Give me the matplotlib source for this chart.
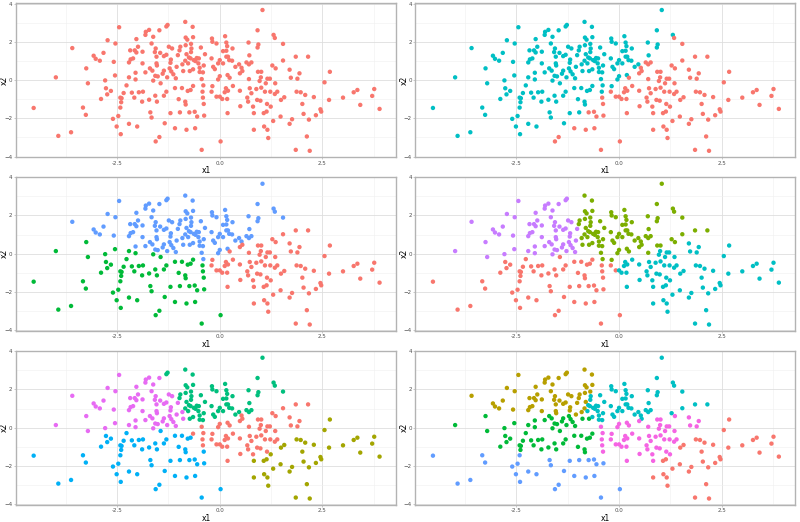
import numpy as np
import matplotlib
matplotlib.use('Agg')
import matplotlib.pyplot as plt

# points
x1 = [-3.99, -3.59, -3.25, -3.21, -3.07, -3.02, -2.92, -2.83, -2.73, -2.79, -2.77, -2.58, -2.55, -2.54, -2.45,
      -2.27, -2.21, -2.21, -2.18, -2.17, -2.11, -2.07, -2.05, -2.05, -2.03, -2.03, -1.99, -1.88, -1.88, -1.81,
      -1.81, -1.80, -1.72, -1.70, -1.66, -1.64, -1.62, -1.62, -1.58, -1.57, -1.56, -1.54, -1.54, -1.53, -1.51,
      -1.47, -1.45, -1.44, -1.39, -1.36, -1.36, -1.30, -1.27, -1.30, -1.28, -1.24, -1.22, -1.20, -1.19, -1.16,
      -1.18, -1.13, -1.09, -1.07, -1.05, -1.02, -0.98, -0.96, -0.92, -0.91, -0.89, -0.84, -0.84, -0.83, -0.83,
      -0.81, -0.79, -0.77, -0.75, -0.73, -0.71, -0.70, -0.70, -0.69, -0.66, -0.65, -0.65, -0.65, -0.63, -0.59,
      -0.56, -0.52, -0.51, -0.49, -0.46, -0.49, -0.44, -0.41, -0.40, -0.39, -0.36,
      1.04, 0.92, 1.31, 1.34, 1.54, -0.19, -0.18, -0.08, 0.13, 0.16, 0.18, 0.31, 0.08, 0.16, 0.70,
      0.94, 0.92, 0.72, -0.20, 0.00, 0.16, 0.20, 0.30, 0.23, -0.04, 0.08, -0.16, -0.12, 0.38, 0.47,
      0.53, 0.55, 0.49, 0.65, 0.71, 0.77, 1.28, 1.36, 1.54, 1.85, 2.15, 1.70, 1.94, 1.73, 1.89,
      0.93, 1.01, 1.00, 1.16, 1.22, 0.97, 1.35, 1.12, 0.71, 0.00, 0.19, 0.24, -0.04, 2.68, 2.55,
      -4.53, -3.93, -3.62, -3.33, -3.26, -2.89, -2.74, -2.65, -2.60, -2.51, -2.47, -2.42, -2.42, -2.41, -2.40,
      -2.39, -2.34, -2.21, -2.14, -2.08, -2.01, -1.97, -1.89, -1.87, -1.72, -1.69, -1.66, -1.57, -1.56, -1.53,
      -1.47, -1.36, -1.34, -1.30, -1.20, -1.09, -1.00, -0.97, -0.84, -0.83, -0.81, -0.78, -0.74, -0.71, -0.61,
      -0.60, -0.55, -0.44, -0.42, -0.41, -0.39, -0.38,
      -0.20, -0.18, -0.08, 0.00, 0.02, 0.06, 0.12, 0.15, 0.18, 0.20, 0.19, 0.32, 0.49, 0.50, 0.67,
      0.69, 0.73, 0.77, 0.81, 0.83, 0.83, 0.89, 0.91, 0.99, 1.01, 1.07, 1.08, 1.10, 1.14, 1.15,
      1.16, 1.18, 1.23, 1.24, 1.30, 1.34, 1.40, 1.49, 1.48, 1.57, 1.70, 1.76, 1.85, 1.87, 1.97,
      2.01, 2.04, 2.08, 2.12, 2.17, 2.19, 2.29, 2.34, 2.45, 2.47, 2.66, 3.00, 3.26, 3.35, 3.42,
      3.71, 3.76, 3.89]
x2 = [0.14, 1.67, 0.61, -0.17, 1.27, 1.11, 1.01, 1.42, 2.08, -0.02, -0.43, 0.95, 0.24, 1.91, 2.76,
      -0.28, 0.14, 0.92, 1.55, 1.08, 1.13, 1.55, 0.38, 0.03, 2.14, 1.44, 1.74, 1.48, 0.87, 0.40,
      2.36, 2.52, 2.62, 0.61, 1.91, 0.49, -0.03, 2.26, 1.46, 0.22, 1.65, 0.87, 1.22, 0.76, 0.19,
      2.60, 1.42, -0.17, 0.33, 1.25, 0.49, 2.80, 2.88, 1.32, 0.14, 1.74, 0.61, 0.90, 1.07, 1.65,
      0.45, 0.30, -0.42, 0.09, 0.69, 1.30, 1.55, 1.74, -0.42, 0.82, 0.47, 3.04, 1.01, 2.22, 1.82,
      1.35, 2.11, 0.87, 1.18, 0.47, 1.13, 1.89, 1.46, 1.65, 2.78, 2.24, -0.31, 0.56, 1.04, 0.99,
      1.15, 0.87, 1.13, 0.64, 1.70, 0.42, 0.05, 0.40, -0.28, 0.76, 1.35,
      3.66, 2.60, 2.36, 2.20, 1.89, 2.17, 2.00, 1.91, 2.29, 1.96, 1.77, 1.65, 1.51, 1.53, 1.96,
      1.86, 1.70, 1.29, 1.13, 1.04, 1.22, 1.22, 1.01, 1.04, 0.87, 0.87, 0.69, 0.57, 0.69, 0.82,
      0.64, 0.47, 0.35, 0.92, 0.82, 0.92, 0.76, 0.61, 1.02, 1.22, 1.22, 0.54, 0.35, 0.12, 0.07,
      0.43, 0.43, 0.14, 0.07, 0.07, -0.05, -0.17, -0.17, 0.05, 0.20, 0.26, 0.12, 0.03, 0.43, -0.12,
      -1.46, -2.92, -2.73, -1.44, -1.82, -0.99, -0.75, -0.57, -2.03, -2.43, -1.88, -0.92, -1.44, -2.83, -1.16,
      -0.95, -0.68, -2.29, -0.66, -0.92, -2.43, -0.64, -1.13, -0.61, -1.03, -1.69, -1.96, -0.82, -3.21, -1.13,
      -2.98, -0.82, -2.26, -0.61, -1.73, -2.52, -1.00, -1.69, -1.13, -1.28, -2.60, -0.57, -1.69, -0.52, -1.66,
      -2.52, -1.91, -3.65, -0.61, -0.92, -1.25, -1.86,
      -0.61, -0.32, -0.87, -0.87, -3.21, -0.99, -0.64, -0.43, -0.99, -0.56, -1.73, -0.31, -0.56, -1.37, -0.92,
      -1.13, -0.43, -0.69, -1.39, -1.73, -2.60, -0.47, -1.04, -1.08, -0.40, -1.73, -2.43, -0.61, -1.65, -1.25,
      -2.60, -3.03, -0.61, -1.39, -2.14, -0.73, -0.61, -1.04, -1.91, -0.90, -2.29, -2.05, -3.65, -0.61, -0.64,
      -1.25, -1.77, -0.78, -2.95, -2.07, -3.70, -0.89, -1.84, -1.53, -1.65, -1.04, -0.92, -0.64, -0.52, -1.30,
      -0.83, -0.47, -1.51]

# cluster centres and ggplot hue colours, k = 1..6
centres = [
    [(0.0, 0.0)],
    [(1.2, -0.9), (-1.3, 0.45)],
    [(1.3, -0.8), (-1.9, -1.3), (-0.8, 1.3)],
    [(-1.7, -1.3), (0.1, 1.2), (1.6, -0.9), (-2.0, 1.0)],
    [(0.7, -0.3), (2.2, -1.6), (-0.1, 1.5), (-1.6, -1.4), (-1.9, 1.0)],
    [(2.2, -1.4), (-1.7, 1.75), (-1.8, -0.35), (0.3, 1.5), (-1.8, -2.3), (0.7, -0.6)],
]
colours = [
    ['#F8766D'],
    ['#F8766D', '#00BFC4'],
    ['#F8766D', '#00BA38', '#619CFF'],
    ['#F8766D', '#7CAE00', '#00BFC4', '#C77CFF'],
    ['#F8766D', '#A3A500', '#00BF7D', '#00B0F6', '#E76BF3'],
    ['#F8766D', '#B79F00', '#00BA38', '#00BFC4', '#619CFF', '#F564E3'],
]

pts = np.column_stack([x1, x2])

fig = plt.figure(figsize=(8, 5.22), dpi=100)
lefts = [0.02, 0.5191]
bottoms = [0.699, 0.3662, 0.0329]
w, h = 0.475, 0.295

for k in range(6):
    ax = fig.add_axes([lefts[k % 2], bottoms[k // 2], w, h])
    c = np.array(centres[k])
    d = ((pts[:, None, :] - c[None, :, :]) ** 2).sum(axis=2)
    lab = d.argmin(axis=1)
    cols = [colours[k][i] for i in lab]
    ax.scatter(pts[:, 0], pts[:, 1], s=10, c=cols, linewidths=0, zorder=3)

    ax.set_xlim(-4.96, 4.29)
    ax.set_ylim(-4.03, 4.02)
    ax.set_xticks([-2.5, 0.0, 2.5])
    ax.set_xticklabels(['-2.5', '0.0', '2.5'])
    ax.set_yticks([-4, -2, 0, 2, 4])
    ax.set_xticks([-3.75, -1.25, 1.25, 3.75], minor=True)
    ax.set_yticks([-3, -1, 1, 3], minor=True)
    ax.grid(which='major', color='#DEDEDE', lw=0.6, zorder=0)
    ax.grid(which='minor', color='#EFEFEF', lw=0.4, zorder=0)
    ax.tick_params(which='major', length=1.5, width=0.5, color='#B3B3B3',
                   labelsize=4, labelcolor='#4D4D4D', pad=1)
    ax.tick_params(which='minor', length=0)
    for s in ax.spines.values():
        s.set_color('#B3B3B3')
        s.set_linewidth(1.0)
    ax.set_xlabel('x1', fontsize=5.5, labelpad=0.5)
    ax.set_ylabel('x2', fontsize=5.5)
    ax.yaxis.set_label_coords(-0.018, 0.5)

fig.savefig('out.png', dpi=100)
